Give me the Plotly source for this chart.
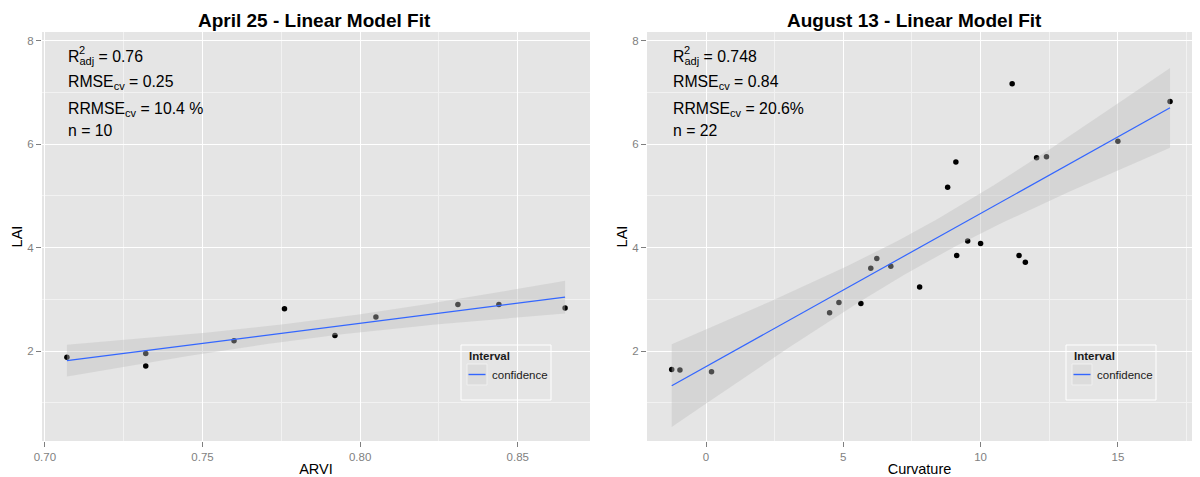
import numpy as np
import plotly.graph_objects as go

# ---- data -------------------------------------------------------------
arvi = [0.707, 0.732, 0.732, 0.760, 0.776, 0.792, 0.805, 0.831, 0.844, 0.865]
lai_apr = [1.88, 1.95, 1.71, 2.20, 2.82, 2.30, 2.66, 2.90, 2.90, 2.83]

curvature = [-1.25, -0.95, 0.20, 4.50, 4.84, 5.64, 6.00, 6.22, 6.73, 7.78, 8.80,
             9.10, 9.13, 9.53, 10.00, 11.15, 11.40, 11.63, 12.04, 12.40, 15.00, 16.90]
lai_aug = [1.64, 1.63, 1.60, 2.74, 2.94, 2.92, 3.60, 3.79, 3.64, 3.24, 5.17,
           5.66, 3.85, 4.13, 4.08, 7.17, 3.85, 3.72, 5.74, 5.76, 6.06, 6.83]

panel_titles = ["April 25 - Linear Model Fit", "August 13 - Linear Model Fit"]
x_titles = ["ARVI", "Curvature"]
y_title = "LAI"
stats_apr = ["R<sub>adj</sub> = 0.76", "RMSE<sub>cv</sub> = 0.25",
             "RRMSE<sub>cv</sub> = 10.4 %", "n = 10"]
stats_aug = ["R<sub>adj</sub> = 0.748", "RMSE<sub>cv</sub> = 0.84",
             "RRMSE<sub>cv</sub> = 20.6%", "n = 22"]
legend_title = "Interval"
legend_label = "confidence"

# two-sided 95% Student t quantiles by residual degrees of freedom
t_crit = {8: 2.306, 20: 2.086}

# ---- layout helpers ----------------------------------------------------
FIG_W, FIG_H = 1200, 477
ML, MR, MT, MB = 42, 8, 32, 36
PW = FIG_W - ML - MR
PH = FIG_H - MT - MB


def px(x):
    return (x - ML) / PW


def py(y):
    return 1 - (y - MT) / PH


FONT = "Liberation Sans, Arial, Helvetica, sans-serif"
BG = "#E5E5E5"
LINE_BLUE = "#3366FF"
BAND = "rgba(190,190,190,0.4)"


def lm_fit(x, y, n_grid=80):
    x = np.asarray(x, float)
    y = np.asarray(y, float)
    n = len(x)
    slope, icpt = np.polyfit(x, y, 1)
    xs = np.linspace(x.min(), x.max(), n_grid)
    fit = icpt + slope * xs
    resid = y - (icpt + slope * x)
    s = np.sqrt(np.sum(resid ** 2) / (n - 2))
    se = s * np.sqrt(1 / n + (xs - x.mean()) ** 2 / np.sum((x - x.mean()) ** 2))
    t = t_crit[n - 2]
    return xs, fit, fit - t * se, fit + t * se


fig = go.Figure()

panels = [
    dict(x=arvi, y=lai_apr, xa="x", ya="y"),
    dict(x=curvature, y=lai_aug, xa="x2", ya="y2"),
]

for p in panels:
    xs, fit, lo, hi = lm_fit(p["x"], p["y"])
    fig.add_trace(go.Scatter(
        x=p["x"], y=p["y"], mode="markers", xaxis=p["xa"], yaxis=p["ya"],
        marker=dict(color="black", size=5.5), showlegend=False, hoverinfo="x+y"))
    fig.add_trace(go.Scatter(
        x=np.concatenate([xs, xs[::-1]]), y=np.concatenate([hi, lo[::-1]]),
        mode="lines", fill="toself", fillcolor=BAND, line=dict(width=0),
        xaxis=p["xa"], yaxis=p["ya"], showlegend=False, hoverinfo="skip"))
    fig.add_trace(go.Scatter(
        x=xs, y=fit, mode="lines", line=dict(color=LINE_BLUE, width=1.2),
        xaxis=p["xa"], yaxis=p["ya"], name=legend_label, showlegend=False))

axis_common = dict(
    showgrid=True, gridcolor="white", gridwidth=1.3,
    ticks="outside", ticklen=5, tickwidth=1, tickcolor="#7F7F7F",
    tickfont=dict(family=FONT, size=11.5, color="#7F7F7F"),
    zeroline=False, showline=False, automargin=False,
)


def minor(dtick):
    return dict(showgrid=True, gridcolor="#F2F2F2", gridwidth=0.6, ticks="", dtick=dtick)


y_range = [0.258, 8.174]
title_font = dict(family=FONT, size=14.5, color="black")

fig.update_layout(
    width=FIG_W, height=FIG_H,
    margin=dict(l=ML, r=MR, t=MT, b=MB, autoexpand=False),
    paper_bgcolor="white", plot_bgcolor=BG,
    font=dict(family=FONT, color="black"),
    showlegend=False,
    xaxis=dict(domain=[0, px(590)], range=[0.6991, 0.8729], dtick=0.05, tick0=0.70,
               tickformat=".2f", anchor="y", minor=minor(0.025),
               title=dict(text=x_titles[0], font=title_font, standoff=5), **axis_common),
    yaxis=dict(domain=[0, 1], range=y_range, dtick=2, anchor="x", minor=minor(1),
               title=dict(text=y_title, font=title_font, standoff=1), **axis_common),
    xaxis2=dict(domain=[px(647), 1], range=[-2.15, 17.7], dtick=5, tick0=0, anchor="y2",
                minor=minor(2.5),
                title=dict(text=x_titles[1], font=title_font, standoff=5), **axis_common),
    yaxis2=dict(domain=[0, 1], range=y_range, dtick=2, anchor="x2", minor=minor(1),
                title=dict(text=y_title, font=title_font, standoff=1), **axis_common),
)


def add_text(text, x, y, size, xanchor="left", bold=False, color="black"):
    fig.add_annotation(text="<b>%s</b>" % text if bold else text,
                       x=px(x), y=py(y), xref="paper", yref="paper",
                       xanchor=xanchor, yanchor="middle", showarrow=False,
                       font=dict(family=FONT, size=size, color=color))


# legend boxes ("Interval" / confidence band key), one per panel
for left in (461, 1066):
    fig.add_shape(type="rect", xref="paper", yref="paper",
                  x0=px(left), x1=px(left + 90), y0=py(345), y1=py(400),
                  fillcolor="rgba(0,0,0,0)", line=dict(color="white", width=1))
    fig.add_shape(type="rect", xref="paper", yref="paper",
                  x0=px(left + 6), x1=px(left + 26), y0=py(364), y1=py(385),
                  fillcolor="#DCDCDC", line=dict(color="#F0F0F0", width=1))
    fig.add_shape(type="line", xref="paper", yref="paper",
                  x0=px(left + 7.5), x1=px(left + 24.5), y0=py(374.5), y1=py(374.5),
                  line=dict(color=LINE_BLUE, width=1.4))
    add_text(legend_title, left + 5.5, 355.5, 11.5, bold=True, color="#1A1A1A")
    add_text(legend_label, left + 29, 375, 11.5, color="#1A1A1A")

# panel titles
for title, cx in zip(panel_titles, (314, 914)):
    add_text(title, cx, 21, 19, xanchor="center", bold=True)

# model statistics
stat_rows = [57, 82, 109.5, 130]
for stats, left in ((stats_apr, 66), (stats_aug, 671)):
    for txt, cy in zip(stats, stat_rows):
        add_text(txt, left, cy, 15.8)
    add_text("2", left + 10.5, 50, 11)

fig.write_html("out.html")
